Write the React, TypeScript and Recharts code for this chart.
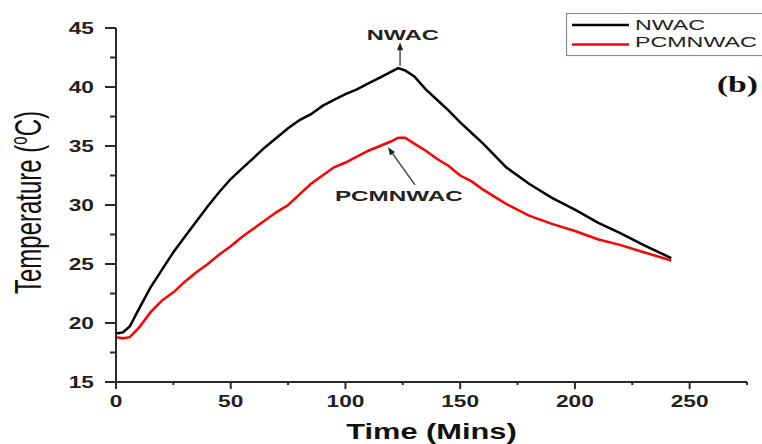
import React from 'react';
import {
  LineChart,
  Line,
  XAxis,
  YAxis,
  Legend,
  ReferenceLine,
  ReferenceDot,
} from 'recharts';

// ---------- data ----------
const TIME = [
  0, 3, 6, 10, 15, 20, 25, 30, 35, 40, 45, 50, 55, 60, 65, 70, 75, 80, 85, 90,
  95, 100, 105, 110, 115, 120, 123, 126, 130, 135, 140, 145, 150, 155, 160,
  170, 180, 190, 200, 210, 220, 230, 242,
];
const NWAC = [
  19.1, 19.2, 19.7, 21.2, 23.0, 24.5, 26.0, 27.3, 28.6, 29.9, 31.1, 32.2, 33.1,
  34.0, 34.9, 35.7, 36.5, 37.2, 37.7, 38.4, 38.9, 39.4, 39.8, 40.3, 40.8, 41.3,
  41.6, 41.4, 40.9, 39.8, 38.9, 38.0, 37.0, 36.1, 35.2, 33.2, 31.8, 30.6, 29.6,
  28.5, 27.6, 26.6, 25.5,
];
const PCMNWAC = [
  18.8, 18.7, 18.8, 19.6, 20.9, 21.9, 22.6, 23.5, 24.3, 25.0, 25.8, 26.5, 27.3,
  28.0, 28.7, 29.4, 30.0, 30.9, 31.8, 32.5, 33.2, 33.6, 34.1, 34.6, 35.0, 35.4,
  35.7, 35.7, 35.2, 34.6, 33.9, 33.3, 32.5, 32.0, 31.3, 30.1, 29.1, 28.4, 27.8,
  27.1, 26.6, 26.0, 25.3,
];
const X_TICKS = [0, 25, 50, 75, 100, 125, 150, 175, 200, 225, 250, 275];
const Y_TICKS = [15, 17.5, 20, 22.5, 25, 27.5, 30, 32.5, 35, 37.5, 40, 42.5, 45];
const X_MAJOR = 50;
const Y_MAJOR = 5;

const SERIES = [
  { key: 'NWAC', name: 'NWAC', color: '#000000' },
  { key: 'PCMNWAC', name: 'PCMNWAC', color: '#ff0000' },
];

// annotation anchors (data coordinates)
const NWAC_ARROW = [
  { x: 123.8, y: 41.8 },
  { x: 123.8, y: 43.8 },
];
const NWAC_LABEL = { x: 125, y: 43.98, text: 'NWAC' };
const PCM_ARROW = [
  { x: 130.3, y: 31.7 },
  { x: 118.5, y: 34.9 },
];
const PCM_LABEL = { x: 123.3, y: 30.34, text: 'PCMNWAC' };

const data = TIME.map((t, i) => ({ t, NWAC: NWAC[i], PCMNWAC: PCMNWAC[i] }));

// ---------- styling ----------
const AXIS = '#2a2a2a';
const SANS = '"Liberation Sans", Arial, sans-serif';
const SERIF = '"Liberation Serif", "Times New Roman", serif';
const STRETCH = 1.42;

const YTick = (props: any) => {
  const { x, y, payload } = props;
  const v = payload.value;
  const major = Math.abs(v % Y_MAJOR) < 1e-6;
  return (
    <g>
      <line x1={x - (major ? 11 : 6)} x2={x} y1={y} y2={y} stroke={AXIS} strokeWidth={2} />
      {major && (
        <text
          transform={`translate(${x - 22},${y + 5.7}) scale(${STRETCH},1)`}
          textAnchor="end"
          fontFamily={SANS}
          fontWeight="bold"
          fontSize={16}
          fill="#222"
        >
          {v}
        </text>
      )}
    </g>
  );
};

const XTick = (props: any) => {
  const { x, y, payload } = props;
  const v = payload.value;
  const major = Math.abs(v % X_MAJOR) < 1e-6;
  return (
    <g>
      <line x1={x} x2={x} y1={y} y2={y + (major ? 7 : 3)} stroke={AXIS} strokeWidth={2} />
      {major && (
        <text
          transform={`translate(${x},${y + 25}) scale(${STRETCH},1)`}
          textAnchor="middle"
          fontFamily={SANS}
          fontWeight="bold"
          fontSize={16}
          fill="#222"
        >
          {v}
        </text>
      )}
    </g>
  );
};

const YTitle = (props: any) => {
  const vb = props.viewBox || { x: 0, y: 28, width: 116, height: 354 };
  const cx = vb.x + 41;
  const cy = vb.y + vb.height / 2 - 2.5;
  return (
    <text
      transform={`translate(${cx},${cy}) scale(1.55,1) rotate(-90)`}
      textAnchor="middle"
      fontFamily={SANS}
      fontSize={24}
      fill="#111"
    >
      Temperature (
      <tspan fontSize={15} dy={-9}>
        o
      </tspan>
      <tspan dy={9}>C)</tspan>
    </text>
  );
};

const XTitle = (props: any) => {
  const vb = props.viewBox || { x: 116, y: 382, width: 631, height: 62 };
  const cx = vb.x + vb.width / 2;
  const cy = vb.y + 57;
  return (
    <text
      transform={`translate(${cx},${cy}) scale(1.4,1)`}
      textAnchor="middle"
      fontFamily={SANS}
      fontWeight="bold"
      fontSize={22}
      fill="#111"
    >
      Time (Mins)
    </text>
  );
};

const Arrow = (props: any) => {
  const { x1, y1, x2, y2 } = props;
  const dx = x2 - x1;
  const dy = y2 - y1;
  const len = Math.sqrt(dx * dx + dy * dy) || 1;
  const ux = dx / len;
  const uy = dy / len;
  const hl = 8;
  const hw = 3;
  const bx = x2 - ux * hl;
  const by = y2 - uy * hl;
  const pts = `${x2},${y2} ${bx - uy * hw},${by + ux * hw} ${bx + uy * hw},${by - ux * hw}`;
  return (
    <g>
      <line x1={x1} y1={y1} x2={bx} y2={by} stroke="#333" strokeWidth={1.3} />
      <polygon points={pts} fill="#222" />
    </g>
  );
};

const makeLabel = (text: string, width: number, size: number) => (p: any) => (
  <text
    x={p.cx - width / 2}
    y={p.cy}
    textLength={width}
    lengthAdjust="spacingAndGlyphs"
    fontFamily={SANS}
    fontWeight="bold"
    fontSize={size}
    fill="#222"
  >
    {text}
  </text>
);

const LegendBox = (props: any) => {
  const payload = props.payload || [];
  return (
    <svg width={196} height={45} style={{ display: 'block' }}>
      <rect x={0.5} y={0.5} width={220} height={42} fill="#fff" stroke="#8a8a8a" strokeWidth={1.2} />
      {payload.map((p: any, i: number) => (
        <g key={p.value}>
          <line x1={6} x2={63} y1={12 + i * 19.5} y2={12 + i * 19.5} stroke={p.color} strokeWidth={2.5} />
          <text
            transform={`translate(69,${16.8 + i * 16.8}) scale(1.55,1)`}
            fontFamily={SANS}
            fontSize={15}
            fill="#222"
          >
            {p.value}
          </text>
        </g>
      ))}
    </svg>
  );
};

export default function App() {
  return (
    <div style={{ position: 'relative', width: 762, height: 444, background: '#fff' }}>
      <style>{`body{margin:0;overflow:hidden;background:#fff}`}</style>
      <LineChart
        width={762}
        height={444}
        data={data}
        margin={{ top: 28, right: 15, bottom: 0, left: 0 }}
      >
        <XAxis
          dataKey="t"
          type="number"
          domain={[0, 275]}
          ticks={X_TICKS}
          interval={0}
          height={62}
          tickSize={0}
          tickMargin={0}
          tick={<XTick />}
          axisLine={{ stroke: AXIS, strokeWidth: 2 }}
          label={{ content: <XTitle /> }}
          allowDataOverflow
        />
        <YAxis
          type="number"
          domain={[15, 45]}
          ticks={Y_TICKS}
          interval={0}
          width={116}
          tickSize={0}
          tickMargin={0}
          tick={<YTick />}
          axisLine={{ stroke: AXIS, strokeWidth: 2 }}
          label={{ content: <YTitle /> }}
          allowDataOverflow
        />
        <Legend
          layout="vertical"
          align="center"
          verticalAlign="middle"
          content={<LegendBox />}
          wrapperStyle={{ left: 566, top: 13, width: 196, height: 45 }}
        />
        {SERIES.map((s) => (
          <Line
            key={s.key}
            dataKey={s.key}
            name={s.name}
            type="linear"
            stroke={s.color}
            strokeWidth={2.5}
            dot={false}
            activeDot={false}
            isAnimationActive={false}
          />
        ))}
        <ReferenceLine segment={NWAC_ARROW} shape={<Arrow />} ifOverflow="visible" />
        <ReferenceLine segment={PCM_ARROW} shape={<Arrow />} ifOverflow="visible" />
        <ReferenceDot
          x={NWAC_LABEL.x}
          y={NWAC_LABEL.y}
          r={0}
          ifOverflow="visible"
          shape={makeLabel(NWAC_LABEL.text, 72, 14)}
        />
        <ReferenceDot
          x={PCM_LABEL.x}
          y={PCM_LABEL.y}
          r={0}
          ifOverflow="visible"
          shape={makeLabel(PCM_LABEL.text, 128, 15)}
        />
      </LineChart>
      <svg
        width={60}
        height={30}
        style={{ position: 'absolute', left: 702, top: 70 }}
      >
        <text
          transform={`translate(56,22) scale(1.4,1)`}
          textAnchor="end"
          fontFamily={SERIF}
          fontWeight="bold"
          fontSize={24}
          fill="#111"
        >
          (b)
        </text>
      </svg>
    </div>
  );
}
